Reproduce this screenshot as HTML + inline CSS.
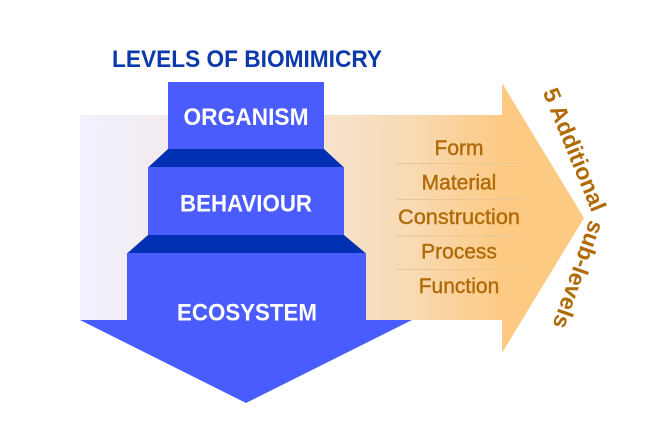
<!DOCTYPE html>
<html>
<head>
<meta charset="utf-8">
<style>
  html, body { margin:0; padding:0; background:#ffffff; }
  body { width:662px; height:422px; overflow:hidden; }
  svg { display:block; }
</style>
</head>
<body>
<svg width="662" height="422" viewBox="0 0 662 422" xmlns="http://www.w3.org/2000/svg">
  <defs>
    <linearGradient id="band" x1="80" y1="0" x2="502" y2="0" gradientUnits="userSpaceOnUse">
      <stop offset="0" stop-color="#f1f1fe"/>
      <stop offset="0.35" stop-color="#f3e7e2"/>
      <stop offset="0.62" stop-color="#f6e1c8"/>
      <stop offset="0.8" stop-color="#f8d9b0"/>
      <stop offset="1" stop-color="#fdca84"/>
    </linearGradient>
  </defs>

  <!-- Orange horizontal arrow -->
  <rect x="80" y="115" width="423" height="205" fill="url(#band)"/>
  <polygon points="502,83 584,218 502,353" fill="#fdca84"/>

  <!-- Sub-level separator lines -->
  <g stroke="#e8c698" stroke-width="1">
    <line x1="397" y1="163.5" x2="520" y2="163.5"/>
    <line x1="397" y1="199.5" x2="520" y2="199.5"/>
    <line x1="397" y1="236" x2="520" y2="236"/>
    <line x1="397" y1="269.5" x2="520" y2="269.5"/>
  </g>

  <!-- Sub-level labels -->
  <g font-family="'Liberation Sans', Arial, sans-serif" font-size="21" fill="#b06a08" stroke="#b06a08" stroke-width="0.4" text-anchor="middle">
    <text x="459" y="155">Form</text>
    <text x="459" y="189.5">Material</text>
    <text x="459" y="224" textLength="122" lengthAdjust="spacingAndGlyphs">Construction</text>
    <text x="459" y="258.5">Process</text>
    <text x="459" y="293">Function</text>
  </g>

  <!-- Blue stacked levels -->
  <rect x="168" y="82" width="156" height="67.5" fill="#4b5cff"/>
  <polygon points="168,149 324,149 344,167.5 148,167.5" fill="#0230b2"/>
  <rect x="148" y="167" width="196" height="68.5" fill="#4b5cff"/>
  <polygon points="148,235 344,235 366,253.5 127,253.5" fill="#0230b2"/>
  <rect x="127" y="253" width="239" height="67.5" fill="#4b5cff"/>
  <polygon points="80,320 412,320 246,403" fill="#4b5cff"/>

  <!-- Level labels -->
  <g font-family="'Liberation Sans', Arial, sans-serif" font-weight="bold" font-size="24.5" fill="#ffffff">
    <text x="183.5" y="125" textLength="125" lengthAdjust="spacingAndGlyphs">ORGANISM</text>
    <text x="180" y="211.5" textLength="132" lengthAdjust="spacingAndGlyphs">BEHAVIOUR</text>
    <text x="177" y="320.5" textLength="140" lengthAdjust="spacingAndGlyphs">ECOSYSTEM</text>
  </g>

  <!-- Title -->
  <text x="112" y="67" font-family="'Liberation Sans', Arial, sans-serif" font-weight="bold" font-size="24.5" fill="#0c3aaa" textLength="270" lengthAdjust="spacingAndGlyphs">LEVELS OF BIOMIMICRY</text>

  <!-- Curved side label -->
  <path id="sidepath" d="M 542.5 92 L 592 213 L 549 335" fill="none" stroke="none"/>
  <text font-family="'Liberation Sans', Arial, sans-serif" font-weight="bold" font-size="23" fill="#b06a08">
    <textPath href="#sidepath">5 Additional sub-levels</textPath>
  </text>
</svg>
</body>
</html>
